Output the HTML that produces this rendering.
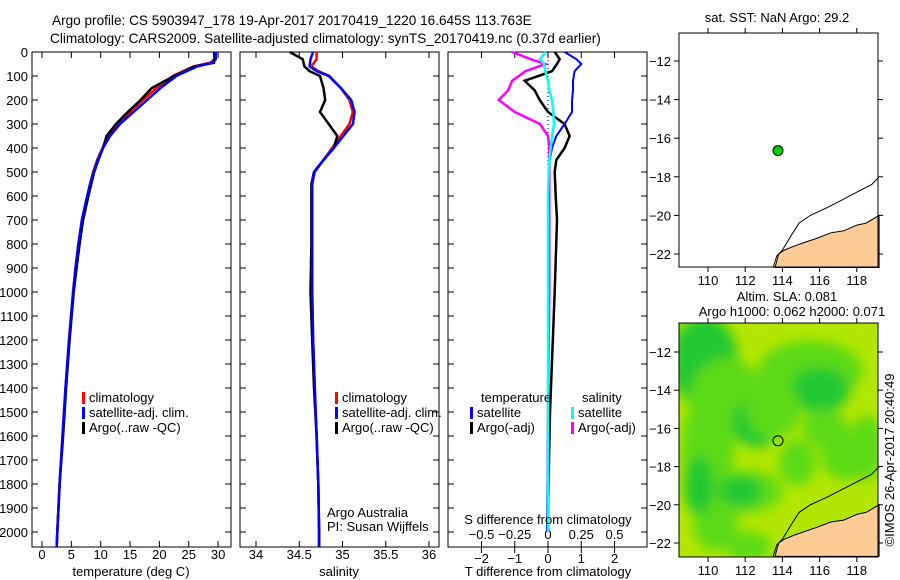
<!DOCTYPE html>
<html><head><meta charset="utf-8"><style>
body{margin:0;background:#fff;}
svg{display:block;font-family:"Liberation Sans",sans-serif;font-size:13px;}
</style></head><body>
<svg id="c" width="900" height="580" xmlns="http://www.w3.org/2000/svg">
<defs><filter id="bl" x="-50%" y="-50%" width="200%" height="200%"><feGaussianBlur stdDeviation="6"/></filter>
<clipPath id="mc2"><rect x="679" y="323" width="199" height="234"/></clipPath></defs>
<text x="52" y="25" style="font-size:13.6px">Argo profile: CS 5903947_178 19-Apr-2017 20170419_1220 16.645S 113.763E</text>
<text x="50" y="43" style="font-size:13.6px">Climatology: CARS2009. Satellite-adjusted climatology: synTS_20170419.nc (0.37d earlier)</text>
<g id="g"></g>
</svg>
<script>
// ---------- data ----------
const depths = [0,30,45,60,80,100,150,200,250,300,350,400,450,500,550,600,700,800,900,1000,1200,1400,1600,1800,2000,2060];
const tempClim = [29.5,29.4,28.6,25.8,24,22.3,19.5,17.2,15,12.8,11.3,10.3,9.4,8.7,8.2,7.7,6.8,6.2,5.7,5.3,4.6,4.0,3.5,3.0,2.6,2.5];
const tempSat  = [29.6,29.6,29.0,26.5,24.6,22.9,20.2,17.9,15.6,13.3,11.6,10.4,9.5,8.8,8.2,7.7,6.8,6.2,5.7,5.3,4.6,4.0,3.5,3.0,2.6,2.5];
const tempArgo = [29.3,29.4,29.3,26.0,24.3,22.5,18.7,16.8,14.6,12.6,11.0,10.4,9.6,8.9,8.4,7.9,7.0,6.4,5.9,5.4,4.7,4.1,3.6,3.0,2.6,2.5];
const salDepths = [0,30,60,80,100,150,200,250,300,350,400,450,500,550,600,800,1000,1200,1400,1600,1800,2000,2060];
const salClim = [34.70,34.70,34.64,34.72,34.85,34.98,35.08,35.12,35.08,34.98,34.88,34.78,34.68,34.65,34.65,34.65,34.65,34.66,34.68,34.70,34.72,34.73,34.73];
const salSat  = [34.66,34.63,34.62,34.70,34.84,34.98,35.10,35.14,35.12,35.01,34.90,34.78,34.67,34.65,34.65,34.65,34.65,34.66,34.68,34.70,34.72,34.73,34.73];
const salArgo = [34.39,34.54,34.56,34.62,34.74,34.78,34.80,34.74,34.84,34.94,34.90,34.78,34.67,34.64,34.64,34.64,34.63,34.65,34.67,34.70,34.72,34.73,34.73];
const diffDepths = [0,30,50,80,120,160,200,250,300,350,400,450,500,600,700,1000,1500,1900,2000];
const dTsat  = [0.5,0.85,1.0,0.8,0.75,0.75,0.72,0.72,0.5,0.25,0.12,0.05,0.03,0.01,0,0,0,-0.02,-0.03];
const dTargo = [0.2,0.35,0.27,0.12,-0.7,-0.4,-0.25,0.0,0.5,0.65,0.5,0.25,0.2,0.23,0.27,0.2,0.06,0.0,0.0];
const dSsat  = [-0.02,-0.06,-0.03,-0.02,0.0,0.01,0.03,0.04,0.045,0.03,0.02,0.01,0.005,0,0,0,0,0,0];
const dSargo = [-0.27,-0.13,-0.02,-0.17,-0.27,-0.3,-0.37,-0.25,-0.06,0.0,0.01,0.01,0.01,0.01,0.01,0.01,0.0,0.0,0.0];
const depthTicks = [0,100,200,300,400,500,600,700,800,900,1000,1100,1200,1300,1400,1500,1600,1700,1800,1900,2000];
const tempTicks = [0,5,10,15,20,25,30];
const salTicks = [34,34.5,35,35.5,36];
const dTTicks = [-2,-1,0,1,2];
const dSTicks = [-0.5,-0.25,0,0.25,0.5];
const lonTicks = [110,112,114,116,118];
const latTicks = [-12,-14,-16,-18,-20,-22];
const argoPos = [113.763,-16.645];
const coastLand = [[113.6,-22.7],[113.8,-22.0],[114.1,-21.8],[114.6,-21.6],[115.2,-21.4],[115.8,-21.2],[116.6,-20.9],[117.3,-20.8],[118.0,-20.5],[118.5,-20.4],[119.2,-20.0],[119.2,-22.7]];
const isobath = [[113.5,-22.7],[113.7,-22.1],[114.0,-21.8],[114.5,-21.0],[114.9,-20.4],[115.5,-20.0],[116.4,-19.6],[117.0,-19.3],[118.0,-18.8],[118.8,-18.4],[119.2,-18.0]];
// SLA blobs: [lon, lat, rx(deg), ry(deg), level]
const slaBlobs = [[109.8,-12.5,1.8,2.4,2],[111,-14.5,2.0,2.2,1],[110,-17,1.4,2.8,1],[112.6,-15.7,1.3,1.3,2],[115.5,-13,2.8,1.6,1],[116,-14,1.6,1.2,2],[114.8,-17.8,1.0,1.2,1],[112,-19.3,2.0,1.1,1],[111.7,-19.3,1.2,0.8,2],[117.4,-17.4,1.3,1.3,1],[110.4,-21,1.2,1.4,1],[112.2,-22.2,1.2,0.8,1],[118.5,-17,0.9,1.7,1],[113.5,-15,1.5,1.5,1],[116.3,-16,1.2,1.0,1],[109.5,-19,0.8,1.5,2]];
// ---------- helpers ----------
const NS='http://www.w3.org/2000/svg', G=document.getElementById('g');
function mk(t,a,txt){const e=document.createElementNS(NS,t);for(const k in a)e.setAttribute(k,a[k]);if(txt!==undefined)e.textContent=txt;G.appendChild(e);return e;}
const yD = d => 52 + d*0.24;
function frame(x0,name){const r=mk('rect',{x:x0,y:52,width:199,height:495,fill:'none',stroke:'#000'});
 for(const d of depthTicks){mk('line',{x1:x0,x2:x0+6,y1:yD(d),y2:yD(d),stroke:'#000'});mk('line',{x1:x0+199,x2:x0+193,y1:yD(d),y2:yD(d),stroke:'#000'});}}
function line(xs,ds,fx,col,w,name,dash){const p=ds.map((d,i)=>fx(xs[i]).toFixed(1)+','+yD(d).toFixed(1)).join(' ');
 const e=mk('polyline',{points:p,fill:'none',stroke:col,'stroke-width':w});if(dash)e.setAttribute('stroke-dasharray',dash);
 }
function xticks(vals,fx,lab,y,name){for(const v of vals){mk('line',{x1:fx(v),x2:fx(v),y1:547,y2:541,stroke:'#000'});mk('line',{x1:fx(v),x2:fx(v),y1:52,y2:58,stroke:'#000'});
 const t=mk('text',{x:fx(v),y:y,'text-anchor':'middle'},lab(v));}}
function leg(x,y,col,txt,name){mk('rect',{x:x,y:y-10,width:3,height:12,fill:col});const t=mk('text',{x:x+7,y:y},txt);}
// ---------- panel 1 ----------
const xT = v => 42 + v*5.87;
frame(32,'temperature-panel');
for(const d of depthTicks){const t=mk('text',{x:28,y:yD(d)+5,'text-anchor':'end'},String(d));}
xticks(tempTicks,xT,v=>String(v),559,'temperature-tick-label');
line(tempClim,depths,xT,'#f00',2.5,'temperature-climatology-line');
line(tempArgo,depths,xT,'#000',2.5,'temperature-argo-line');
line(tempSat,depths,xT,'#00f',2.5,'temperature-satellite-line');
mk('text',{x:131,y:576,'text-anchor':'middle',},'temperature (deg C)');
leg(82,402,'#f00','climatology','legend-climatology');leg(82,417,'#00f','satellite-adj. clim.','legend-satellite');leg(82,432,'#000','Argo(..raw -QC)','legend-argo');
// ---------- panel 2 ----------
const xS = v => 256 + (v-34)*86.5;
frame(240,'salinity-panel');
xticks(salTicks,xS,v=>String(v),559,'salinity-tick-label');
line(salClim,salDepths,xS,'#f00',2.5,'salinity-climatology-line');
line(salArgo,salDepths,xS,'#000',2.5,'salinity-argo-line');
line(salSat,salDepths,xS,'#00f',2.5,'salinity-satellite-line');
mk('text',{x:339,y:576,'text-anchor':'middle',},'salinity');
leg(335,402,'#f00','climatology','legend-climatology-2');leg(335,417,'#00f','satellite-adj. clim.','legend-satellite-2');leg(335,432,'#000','Argo(..raw -QC)','legend-argo-2');
mk('text',{x:327,y:517,},'Argo Australia');
mk('text',{x:327,y:531,},'PI: Susan Wijffels');
// ---------- panel 3 ----------
const xdT = v => 548 + v*33.3, xdS = v => 548 + v*133;
frame(448,'difference-panel');
for(const v of dTTicks){mk('line',{x1:xdT(v),x2:xdT(v),y1:547,y2:553,stroke:'#000'});const t=mk('text',{x:xdT(v),y:563,'text-anchor':'middle'},String(v).replace('-','\u2212'));}
for(const v of dSTicks){mk('line',{x1:xdS(v),x2:xdS(v),y1:547,y2:541,stroke:'#000'});mk('line',{x1:xdS(v),x2:xdS(v),y1:52,y2:58,stroke:'#000'});const t=mk('text',{x:xdS(v),y:539,'text-anchor':'middle'},String(v).replace('-','\u2212'));}
mk('line',{x1:548,x2:548,y1:52,y2:190,stroke:'#000','stroke-dasharray':'1,3'});
line(dSargo,diffDepths,xdS,'#f0f',2.5,'salinity-argo-diff-line');
line(dTargo,diffDepths,xdT,'#000',2.5,'temperature-argo-diff-line');
line(dTsat,diffDepths,xdT,'#00f',2,'temperature-satellite-diff-line');
line(dSsat,diffDepths,xdS,'#0ff',2.5,'salinity-satellite-diff-line');
mk('text',{x:548,y:524,'text-anchor':'middle',},'S difference from climatology');
mk('text',{x:548,y:576,'text-anchor':'middle',},'T difference from climatology');
mk('text',{x:481,y:402,},'temperature');
leg(470,417,'#00f','satellite','legend-t-satellite');leg(470,432,'#000','Argo(-adj)','legend-t-argo');
mk('text',{x:582,y:402,},'salinity');
leg(571,417,'#0ff','satellite','legend-s-satellite');leg(571,432,'#f0f','Argo(-adj)','legend-s-argo');
// ---------- maps ----------
function mapAxes(y0,y1,latY,name){
 const mx=v=>708+(v-110)*18.6, my=v=>latY(v);
 for(const v of lonTicks){mk('line',{x1:mx(v),x2:mx(v),y1:y1,y2:y1+5,stroke:'#000'});mk('line',{x1:mx(v),x2:mx(v),y1:y0,y2:y0-5,stroke:'#000'});
  const t=mk('text',{x:mx(v),y:y1+18,'text-anchor':'middle'},String(v));}
 for(const v of latTicks){mk('line',{x1:679,x2:674,y1:my(v),y2:my(v),stroke:'#000'});mk('line',{x1:878,x2:883,y1:my(v),y2:my(v),stroke:'#000'});
  const t=mk('text',{x:671,y:my(v)+5,'text-anchor':'end'},String(v).replace('-','\u2212'));}
 const r=mk('rect',{x:679,y:y0,width:199,height:y1-y0,fill:'none',stroke:'#000'});
 return [mx,my];}
function coast(mx,my,clip){const p=coastLand.map(c=>mx(c[0]).toFixed(1)+','+my(c[1]).toFixed(1)).join(' ');
 const e=mk('polygon',{points:p,fill:'#fdcb94',stroke:'#000','stroke-width':1});if(clip)e.setAttribute('clip-path',clip);
 const q=isobath.map(c=>mx(c[0]).toFixed(1)+','+my(c[1]).toFixed(1)).join(' ');
 const i=mk('polyline',{points:q,fill:'none',stroke:'#000','stroke-width':1});}
// top
const lat1=v=>61+(-12-v)*19.3;
mk('text',{x:777,y:22,'text-anchor':'middle',},'sat. SST: NaN Argo: 29.2');
let [mx1,my1]=[v=>708+(v-110)*18.6,lat1];
coast(mx1,my1);
mk('circle',{cx:mx1(argoPos[0]),cy:my1(argoPos[1]),r:5,fill:'#0c0',stroke:'#000',});
mapAxes(33,267,lat1,'sst-map-frame');
// bottom
const lat2=v=>352+(-12-v)*19.1;
mk('text',{x:787,y:301,'text-anchor':'middle',},'Altim. SLA: 0.081');
mk('text',{x:792,y:316,'text-anchor':'middle',},'Argo h1000: 0.062 h2000: 0.071');
mk('rect',{x:679,y:323,width:199,height:234,fill:'#b2e600',});
const gb=mk('g',{'clip-path':'url(#mc2)',filter:'url(#bl)'});
for(const b of slaBlobs){const e=document.createElementNS(NS,'ellipse');
 e.setAttribute('cx',mx1(b[0]));e.setAttribute('cy',lat2(b[1]));e.setAttribute('rx',b[2]*18.6);e.setAttribute('ry',b[3]*19.1);
 e.setAttribute('fill',b[4]==2?'#20c830':'#5cda12');
 
 
 gb.appendChild(e);}
coast(mx1,lat2);
mk('circle',{cx:mx1(argoPos[0]),cy:lat2(argoPos[1]),r:5,fill:'none',stroke:'#000',});
mapAxes(323,557,lat2,'sla-map-frame');
mk('text',{x:894,y:460,'text-anchor':'middle',transform:'rotate(-90 894 460)',},'©IMOS 26-Apr-2017 20:40:49');
</script>
</body></html>
